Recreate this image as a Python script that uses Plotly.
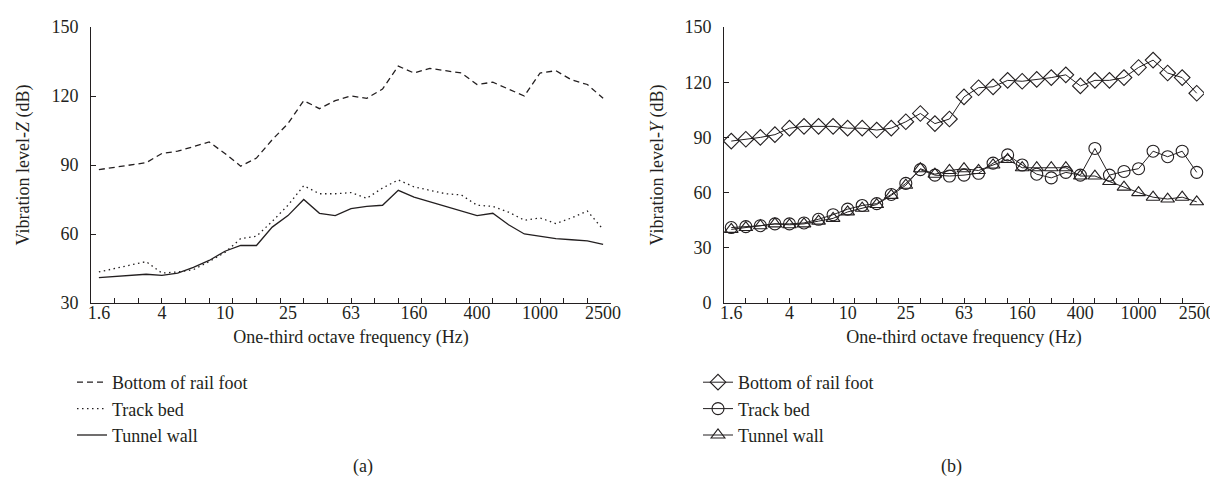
import plotly.graph_objects as go

# ---------------- data ----------------
freq_bands = ["1.6", "2", "2.5", "3.15", "4", "5", "6.3", "8", "10", "12.5", "16", "20",
              "25", "31.5", "40", "50", "63", "80", "100", "125", "160", "200", "250",
              "315", "400", "500", "630", "800", "1000", "1250", "1600", "2000", "2500"]
band_index = list(range(len(freq_bands)))
label_index = band_index[::4]
tick_labels = [freq_bands[i] for i in label_index]

# (a) vertical (Z) vibration level, dB
z_rail_foot = [88, 89, 90, 91, 95, 96, 98, 100, 95, 89.5, 93, 101, 108, 118, 114.5, 118, 120,
               119, 123, 133, 130, 132, 131, 130, 125, 126, 123, 120, 130, 131, 127, 125, 119]
z_track_bed = [43.5, 45, 46.5, 48, 43, 43.5, 44.5, 48, 52, 58, 59, 65.5, 72.5, 81, 77.5, 77.5,
               78, 75.5, 80, 83.5, 80.5, 79, 77.5, 77, 72.5, 72, 69.5, 66, 67, 64.5, 67, 70, 62]
z_tunnel_wall = [41, 41.5, 42, 42.5, 42, 43, 45.5, 48.5, 52.5, 55, 55, 63, 68, 75, 69, 68, 71,
                 72, 72.5, 79, 76, 74, 72, 70, 68, 69, 64, 60, 59, 58, 57.5, 57, 55.5]

# (b) lateral (Y) vibration level, dB
y_rail_foot = [88, 89, 90, 91.5, 95, 96, 96, 96, 95, 95, 94, 95, 98.5, 103, 97.5, 100, 112,
               117, 117.5, 121, 120.5, 121.5, 122.5, 124, 118, 121, 121, 122.5, 128, 132, 125,
               122.5, 114]
y_track_bed = [41, 41.5, 42, 43, 43, 43.5, 45.5, 48, 51, 53, 54, 59, 65, 72.5, 69.5, 69, 69.5,
               70.5, 76, 80.5, 75, 70, 68, 71, 69.5, 84, 69.5, 71.5, 73, 82.5, 79.5, 82.5, 71]
y_tunnel_wall = [40, 41, 42, 43, 42.5, 43, 44.5, 46, 49.5, 51.5, 53.5, 58.5, 64, 73, 70, 72, 73,
                 72, 75, 78, 73.5, 73.5, 73.5, 73.5, 69, 69, 66, 63, 60, 57.5, 56.5, 57.5, 55]

series_names = ["Bottom of rail foot", "Track bed", "Tunnel wall"]
z_ticks = [30, 60, 90, 120, 150]
y_ticks = [0, 30, 60, 90, 120, 150]

# ---------------- style ----------------
INK = "#231f20"
FONT = "Liberation Serif"
FS = 18
W, H = 1218, 487
tick_marks = [-0.5 + 1.5 * k for k in range(23)]
xr = [-0.5, 32.5]


def px_x(p):
    return p / W


def px_y(p):
    return 1 - p / H


left_dom = [px_x(83), px_x(603)]
right_dom = [px_x(716), px_x(1196)]
y_dom = [px_y(295), px_y(19)]

fig = go.Figure()

# panel (a): line styles
dash_styles = ["6px,4px", "1.5px,3.5px", "solid"]
for name, vals, dash in zip(series_names, [z_rail_foot, z_track_bed, z_tunnel_wall], dash_styles):
    fig.add_trace(go.Scatter(x=band_index, y=vals, name=name, mode="lines",
                             line=dict(color=INK, width=1.3, dash=dash),
                             xaxis="x", yaxis="y", legend="legend"))

# panel (b): open markers
symbols = ["diamond-open", "circle-open", "triangle-up-open"]
for name, vals, sym in zip(series_names, [y_rail_foot, y_track_bed, y_tunnel_wall], symbols):
    fig.add_trace(go.Scatter(x=band_index, y=vals, name=name, mode="lines+markers",
                             line=dict(color=INK, width=1),
                             marker=dict(symbol=sym, size=12, color=INK, line=dict(width=1.1, color=INK)),
                             xaxis="x2", yaxis="y2", legend="legend2"))

# invisible carriers for the label axes
fig.add_trace(go.Scatter(x=band_index[:1], y=[None], xaxis="x3", yaxis="y",
                         showlegend=False, hoverinfo="skip", mode="lines"))
fig.add_trace(go.Scatter(x=band_index[:1], y=[None], xaxis="x4", yaxis="y2",
                         showlegend=False, hoverinfo="skip", mode="lines"))

tickfont = dict(family=FONT, size=FS, color=INK)
base_x = dict(range=xr, showgrid=False, zeroline=False, fixedrange=True, automargin=False)
mark_axis = dict(base_x, showline=True, linecolor=INK, linewidth=1, ticks="inside", ticklen=5,
                 tickcolor=INK, tickwidth=1, tickmode="array", tickvals=tick_marks,
                 showticklabels=False)
label_axis = dict(base_x, showline=False, ticks="", tickmode="array", tickvals=label_index,
                  ticktext=tick_labels, tickfont=tickfont, side="bottom", ticklabelstandoff=-3,
                  title=dict(text="One-third octave frequency (Hz)", font=tickfont, standoff=8))

y_common = dict(showgrid=False, zeroline=False, showline=True, linecolor=INK, linewidth=1,
                ticks="inside", ticklen=5, tickcolor=INK, tickwidth=1, tickmode="array",
                tickfont=tickfont, domain=y_dom, fixedrange=True, automargin=False,
                ticklabelstandoff=8)

fig.update_layout(
    width=W, height=H,
    paper_bgcolor="white", plot_bgcolor="white",
    margin=dict(l=0, r=0, t=0, b=0),
    font=dict(family=FONT, size=FS, color=INK),
    showlegend=True,
    xaxis=dict(mark_axis, domain=left_dom, anchor="y"),
    xaxis3=dict(label_axis, overlaying="x", anchor="y"),
    xaxis2=dict(mark_axis, domain=right_dom, anchor="y2"),
    xaxis4=dict(label_axis, overlaying="x2", anchor="y2"),
    yaxis=dict(y_common, range=[30, 150], tickvals=z_ticks, anchor="x",
               title=dict(text="Vibration level-<i>Z</i> (dB)", font=tickfont, standoff=17)),
    yaxis2=dict(y_common, range=[0, 150], tickvals=y_ticks, anchor="x2",
                title=dict(text="Vibration level-<i>Y</i> (dB)", font=tickfont, standoff=16)),
    legend=dict(x=px_x(64), y=px_y(356), xanchor="left", yanchor="top",
                font=dict(family=FONT, size=FS, color=INK), bgcolor="rgba(0,0,0,0)",
                tracegroupgap=0, itemwidth=30),
    legend2=dict(x=px_x(690), y=px_y(356), xanchor="left", yanchor="top",
                 font=dict(family=FONT, size=FS, color=INK), bgcolor="rgba(0,0,0,0)",
                 tracegroupgap=0, itemwidth=30),
    annotations=[
        dict(text="(a)", x=px_x(343), y=px_y(471), xref="paper", yref="paper",
             showarrow=False, font=dict(family=FONT, size=FS, color=INK)),
        dict(text="(b)", x=px_x(956), y=px_y(471), xref="paper", yref="paper",
             showarrow=False, font=dict(family=FONT, size=FS, color=INK)),
    ],
)

fig.write_html("out.html")
